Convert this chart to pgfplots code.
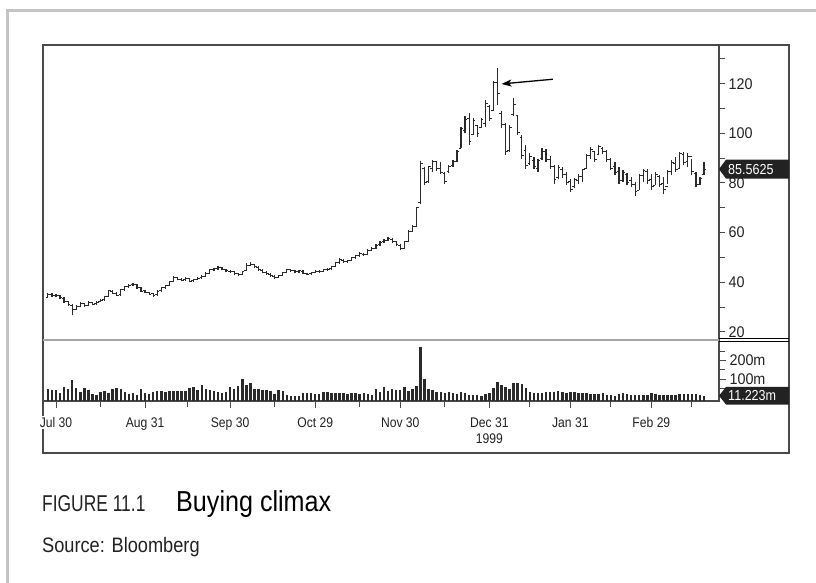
\documentclass[border=0pt]{standalone}
\usepackage{fontspec}
\setmainfont{Liberation Sans}[FakeStretch=0.87]
\newfontfamily\figfont{Liberation Sans}[FakeStretch=0.76]
\newfontfamily\numfont{Liberation Sans}[FakeStretch=0.93]
\usepackage{pgfplots}
\pgfplotsset{compat=1.18}
\usepackage{pgfplotstable}
\usetikzlibrary{arrows.meta}

\definecolor{ink}{HTML}{222222}
\definecolor{frame}{HTML}{4A4A4A}
\definecolor{bar}{HTML}{2A2A2A}
\definecolor{outer}{HTML}{C4C4C4}

% open tick to the left, close tick to the right
\pgfdeclareplotmark{tickopen}{\pgfpathmoveto{\pgfqpoint{-\pgfplotmarksize}{0pt}}\pgfpathlineto{\pgfqpoint{0pt}{0pt}}\pgfusepathqstroke}
\pgfdeclareplotmark{tickclose}{\pgfpathmoveto{\pgfqpoint{0pt}{0pt}}\pgfpathlineto{\pgfqpoint{\pgfplotmarksize}{0pt}}\pgfusepathqstroke}

% trading day (0 = Jul 30 1999), open, high, low, close
\pgfplotstableread{
d o h l c
-2 34.0 35.8 33.8 35.0
-1 35.0 35.6 34.0 34.6
0 34.6 35.4 33.9 34.8
1 34.5 34.9 33.2 33.9
2 33.6 34.0 31.8 32.4
3 32.2 32.6 30.4 31.0
4 30.8 31.2 26.7 28.9
5 29.0 30.8 28.6 30.2
6 30.3 31.9 29.8 31.4
7 31.4 31.8 30.0 30.5
8 30.6 32.3 30.2 31.8
9 31.7 32.2 30.8 31.2
10 31.3 32.4 30.9 32.0
11 32.1 33.2 31.9 32.8
12 32.9 34.6 32.5 34.2
13 34.4 36.9 34.1 36.5
14 36.4 37.0 35.2 35.6
15 35.5 35.9 34.3 34.8
16 34.9 37.2 34.6 36.9
17 37.0 38.6 36.6 38.2
18 38.1 39.4 37.8 38.8
19 38.9 39.8 38.4 39.2
20 39.1 39.4 37.4 37.8
21 37.7 38.0 36.0 36.4
22 36.5 36.8 35.6 36.0
23 35.9 36.2 34.8 35.2
24 35.3 35.5 34.2 34.8
25 34.9 36.8 34.6 36.4
26 36.5 38.2 36.2 37.9
27 37.8 38.9 37.4 38.6
28 38.7 40.5 38.4 40.2
29 40.3 42.3 40.0 41.8
30 41.7 42.0 40.8 41.2
31 41.1 41.6 40.3 40.8
32 40.9 41.9 40.6 41.5
33 41.4 41.7 40.0 40.4
34 40.5 41.3 40.1 40.9
35 41.0 42.0 40.7 41.6
36 41.7 42.7 41.4 42.3
37 42.4 44.0 42.1 43.6
38 43.7 45.4 43.4 45.0
39 45.1 45.9 44.6 45.4
40 45.5 46.6 45.1 46.0
41 45.9 46.2 44.8 45.2
42 45.1 45.5 44.0 44.6
43 44.5 45.0 43.8 44.2
44 44.3 44.6 42.9 43.4
45 43.3 43.8 42.5 43.0
46 43.2 44.6 42.9 44.2
47 44.8 47.6 44.6 46.8
48 46.9 48.0 46.4 47.3
49 47.2 47.5 45.8 46.2
50 46.1 46.4 44.6 45.0
51 44.9 45.3 43.7 44.1
52 44.0 44.4 42.8 43.3
53 43.2 43.6 42.0 42.5
54 42.4 42.9 41.4 41.8
55 41.9 43.0 41.6 42.6
56 42.7 44.3 42.4 43.9
57 44.0 45.4 43.7 45.0
58 45.0 45.5 44.3 44.8
59 44.7 45.0 43.8 44.2
60 44.3 45.0 43.9 44.6
61 44.5 44.8 43.1 43.5
62 43.4 43.8 42.7 43.2
63 43.3 44.3 43.0 43.9
64 44.0 44.9 43.6 44.5
65 44.4 44.8 43.8 44.2
66 44.3 45.4 44.0 45.0
67 45.0 45.7 44.6 45.3
68 45.4 46.6 45.0 46.2
69 46.3 48.3 46.0 47.8
70 47.9 49.6 47.5 49.0
71 48.9 49.3 47.7 48.2
72 48.3 49.0 47.8 48.6
73 48.7 50.3 48.4 49.8
74 49.9 51.1 49.5 50.6
75 50.7 52.0 50.3 51.4
76 51.3 51.8 50.4 51.0
77 51.1 53.3 50.8 52.8
78 52.9 54.1 52.5 53.6
79 53.7 55.4 53.3 54.9
80 55.0 56.6 54.6 56.1
81 56.2 57.3 55.8 56.8
82 56.9 58.2 56.5 57.5
83 57.4 57.8 55.9 56.3
84 56.2 56.6 54.4 55.0
85 54.9 55.3 52.8 53.6
86 53.7 56.6 53.4 56.2
87 56.4 61.0 56.2 60.5
88 60.6 63.0 60.2 62.4
89 62.5 70.5 62.2 70.0
90 72.0 88.8 71.5 87.8
91 86.0 86.5 79.0 80.0
92 80.5 87.0 80.0 86.5
93 86.0 89.2 84.4 88.5
94 88.5 89.0 85.0 86.0
95 86.0 88.5 83.7 84.4
96 84.0 84.4 79.7 80.5
97 84.5 87.1 84.0 86.8
98 87.0 89.2 86.5 88.6
99 88.8 93.2 88.5 92.8
100 94.0 102.7 93.9 102.0
101 101.0 106.8 100.0 105.5
102 106.0 108.1 95.2 96.5
103 99.5 106.1 99.3 105.0
104 103.0 103.4 98.6 99.8
105 102.5 106.1 102.0 105.5
106 104.0 113.5 102.7 112.0
107 111.0 111.5 104.8 106.0
108 109.0 121.0 108.8 120.3
109 120.3 126.5 111.5 116.0
110 108.0 108.8 102.0 103.5
111 103.5 104.0 91.2 92.5
112 93.0 103.4 92.6 102.5
113 107.5 114.2 106.8 111.5
114 107.0 107.4 99.3 100.2
115 98.5 99.3 89.8 91.0
116 93.0 95.2 85.8 87.0
117 88.0 91.9 87.1 90.5
118 89.0 90.5 85.8 86.5
119 86.0 89.8 84.4 89.0
120 89.8 93.9 89.2 92.8
121 92.5 93.5 88.5 89.5
122 89.5 90.8 85.8 86.5
123 86.8 87.1 79.7 81.5
124 82.0 87.1 81.7 86.2
125 85.6 86.5 82.0 83.5
126 83.6 84.5 79.0 80.2
127 80.5 81.7 76.3 77.5
128 78.5 82.0 78.0 81.2
129 81.0 83.5 79.7 82.5
130 82.5 85.8 80.4 85.3
131 86.0 91.5 85.8 91.0
132 91.0 94.6 89.8 93.5
133 92.5 93.0 88.5 89.5
134 91.5 95.2 91.2 94.5
135 94.0 94.6 91.5 92.5
136 92.8 93.2 88.5 89.5
137 89.6 90.0 85.1 86.0
138 86.5 88.5 83.0 84.2
139 84.5 86.5 79.7 81.0
140 81.0 85.1 80.4 84.2
141 83.5 84.0 79.0 80.2
142 80.8 82.4 78.3 79.5
143 79.5 80.4 74.9 76.4
144 77.0 83.7 77.0 83.0
145 82.8 85.8 80.4 84.9
146 84.5 85.5 79.7 81.0
147 81.2 83.7 77.0 78.5
148 79.0 84.4 79.0 83.6
149 82.5 83.0 78.3 79.4
150 79.6 82.4 75.6 77.4
151 78.5 85.1 79.7 84.5
152 84.7 89.2 83.0 88.2
153 88.0 90.5 84.4 85.5
154 86.0 92.6 85.8 91.8
155 91.5 92.6 87.1 88.3
156 88.5 91.9 86.5 90.6
157 90.5 89.5 83.0 84.5
158 84.0 84.4 78.3 79.3
159 79.3 82.4 79.0 81.8
160 83.5 88.5 83.0 85.5625
}\price

% trading day, volume in millions of shares
\pgfplotstableread{
d v
-2 45
-1 44
0 42
1 24
2 58
3 45
4 95
5 55
6 32
7 50
8 44
9 20
10 15
11 30
12 38
13 28
14 45
15 50
16 48
17 30
18 22
19 26
20 15
21 47
22 24
23 20
24 33
25 35
26 36
27 30
28 37
29 38
30 35
31 37
32 36
33 50
34 58
35 44
36 68
37 45
38 40
39 38
40 30
41 28
42 30
43 56
44 45
45 62
46 99
47 68
48 78
49 45
50 46
51 44
52 40
53 38
54 22
55 40
56 38
57 15
58 8
59 10
60 12
61 27
62 28
63 25
64 18
65 20
66 33
67 30
68 28
69 25
70 27
71 24
72 22
73 26
74 24
75 22
76 25
77 20
78 14
79 45
80 30
81 56
82 38
83 45
84 40
85 42
86 60
87 38
88 48
89 63
90 273
91 99
92 48
93 40
94 30
95 32
96 28
97 32
98 25
99 22
100 30
101 26
102 15
103 14
104 16
105 12
106 20
107 25
108 51
109 83
110 68
111 59
112 48
113 78
114 78
115 72
116 51
117 30
118 25
119 27
120 28
121 30
122 33
123 33
124 35
125 30
126 28
127 33
128 30
129 25
130 24
131 26
132 20
133 18
134 22
135 24
136 15
137 16
138 12
139 22
140 24
141 18
142 14
143 16
144 15
145 14
146 13
147 24
148 22
149 15
150 14
151 15
152 13
153 16
154 20
155 22
156 18
157 20
158 22
159 16
160 11.223
}\volume

\pgfplotsset{
  panel/.style={
    scale only axis, width=676bp, anchor=south west,
    xmin=-3.2, xmax=163.7, enlargelimits=false,
    axis line style={draw=none},
    tick style={draw=frame, line width=0.9bp},
    tick align=outside,
    xticklabel style={font=\fontsize{14}{16.5}\selectfont, text=ink},
    yticklabel style={font=\numfont\fontsize{15.5}{17}\selectfont, text=ink},
    /pgf/number format/assume math mode=true,
  },
}

\begin{document}
\begin{tikzpicture}[x=1bp,y=1bp]
\useasboundingbox (0,0) rectangle (816,583);
\draw[outer, line width=3bp] (7,0) -- (7,572) -- (816,572);

% frame and panel separators
\draw[frame, line width=1.5bp] (43,130) rectangle (789,538);
\draw[frame, line width=1.5bp] (719,538) -- (719,182) -- (43,182);
\draw[black!35, line width=2.5bp] (43,243) -- (719,243);
\draw[black, line width=0.8bp] (719,245) -- (789,245) (719,242) -- (789,242);

% price panel
\begin{axis}[panel, at={(43bp,243bp)}, height=295bp,
  ymin=16.7, ymax=135.6,
  xtick=\empty,
  ytick={20,40,...,120}, minor ytick={30,50,...,130},
  ytick pos=right, yticklabel pos=right,
  major tick length=6bp, minor tick length=6bp]
\addplot[draw=none, forget plot, error bars/.cd, y dir=plus, y explicit,
  error mark=none, error bar style={draw=bar, line width=1.2bp}]
  table[x=d, y=l, y error plus expr=\thisrow{h}-\thisrow{l}] {\price};
\addplot[only marks, mark=tickopen, mark size=2.2bp, bar, line width=1bp] table[x=d, y=o] {\price};
\addplot[only marks, mark=tickclose, mark size=2.2bp, bar, line width=1bp] table[x=d, y=c] {\price};
\draw[-{Stealth[length=10bp, width=7bp, inset=2.5bp]}, line width=1.3bp, black]
  (axis cs:122.7,121.8) -- (axis cs:110.0,119.9);
\coordinate (pl) at (axis cs:163.7,85.5625);
\end{axis}

% volume panel
\begin{axis}[panel, at={(43bp,182bp)}, height=60bp,
  ymin=-17, ymax=303.7,
  xtick={0,22,43,64,85,107,127,147},
  xticklabels={Jul 30, Aug 31, Sep 30, Oct 29, Nov 30, {Dec 31\\1999}, Jan 31, Feb 29},
  minor xtick={11,32.5,54,75,96,117,137,157},
  xtick pos=bottom,
  xticklabel style={align=center, fill=white, inner sep=1.5bp, yshift=-8bp},
  ytick={100,200}, yticklabels={100m,200m}, minor ytick={50,150,250},
  ytick pos=right, yticklabel pos=right,
  major tick length=7bp, minor tick length=6bp]
\addplot[draw=none, error bars/.cd, y dir=minus, y fixed=400, error mark=none,
  error bar style={draw=bar, line width=2.5bp}]
  table[x=d, y=v] {\volume};
\coordinate (vl) at (axis cs:163.7,11.223);
\end{axis}

% last value labels
\fill[ink] (pl) -- ++(7,9.5) -- ++(63,0) -- ++(0,-19) -- ++(-63,0) -- cycle;
\node[anchor=west, inner sep=0, text=white, font=\fontsize{14.5}{16}\selectfont] at ([xshift=9bp]pl) {85.5625};
\fill[ink] (vl) -- ++(7,8.8) -- ++(63,0) -- ++(0,-17.6) -- ++(-63,0) -- cycle;
\node[anchor=west, inner sep=0, text=white, font=\fontsize{14.5}{16}\selectfont] at ([xshift=9bp]vl) {11.223m};

% caption
\node[anchor=base west, inner sep=0, text=ink, font=\figfont\fontsize{23}{25}\selectfont] at (42,71) {FIGURE 11.1};
\node[anchor=base west, inner sep=0, text=black, font=\fontsize{29}{32}\selectfont] at (176,71) {Buying climax};
\node[anchor=base west, inner sep=0, text=ink, font=\fontsize{21}{24}\selectfont] at (42,30) {Source: Bloomberg};
\end{tikzpicture}
\end{document}
